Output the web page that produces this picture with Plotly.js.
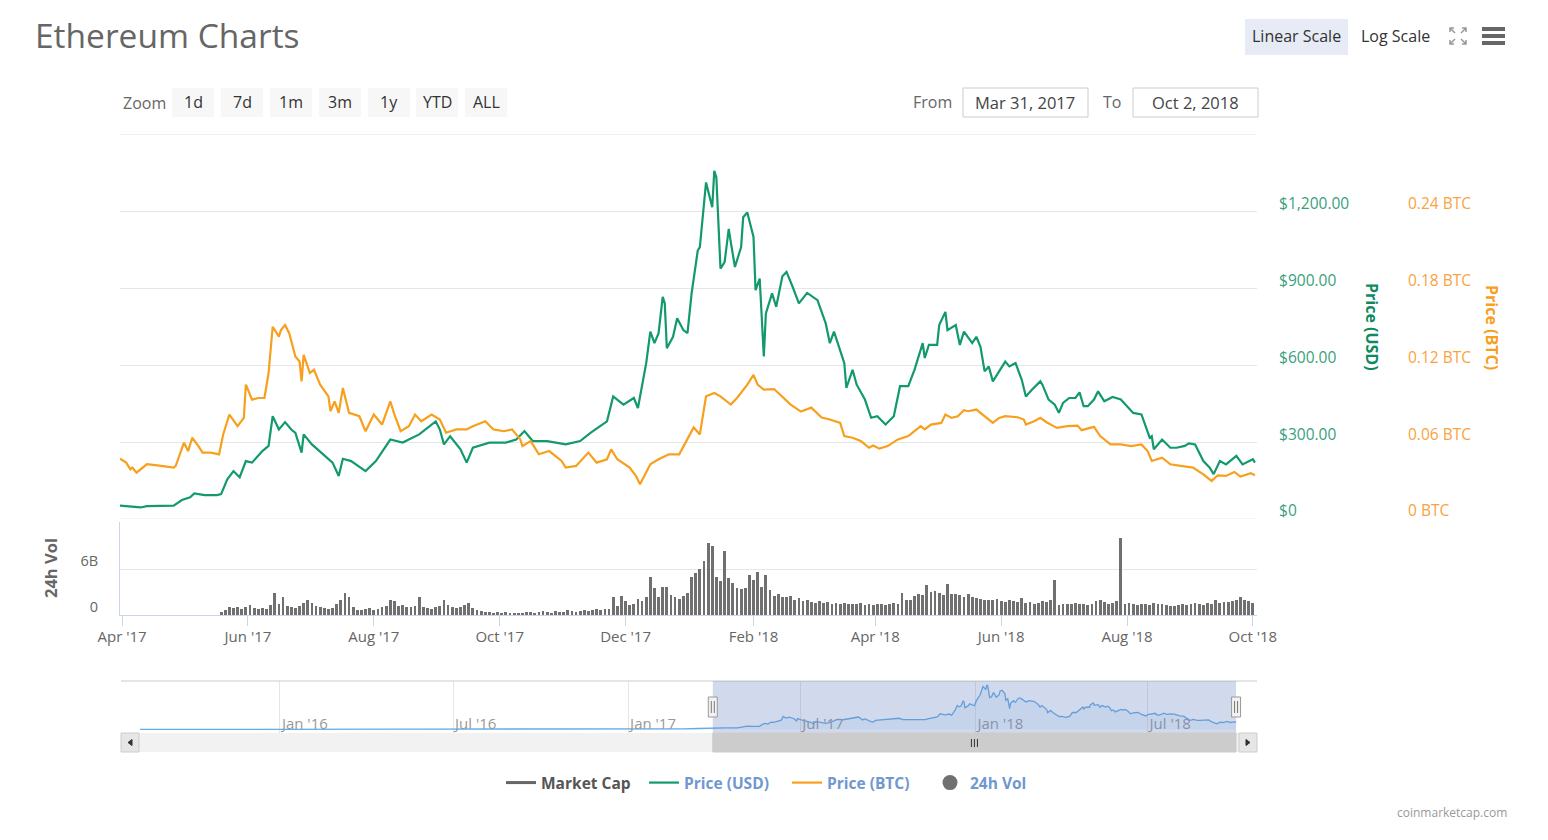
<!DOCTYPE html>
<html><head><meta charset="utf-8">
<script src="https://cdn.plot.ly/plotly-3.0.1.min.js"></script>
<style>html,body{margin:0;padding:0;background:#fff;overflow:hidden}#chart{width:1548px;height:840px}</style>
</head><body><div id="chart"></div>
<script>
// ---------- DATA ----------
const usdDates = ['2017-03-31','2017-04-10','2017-04-13','2017-04-26','2017-04-30','2017-05-04','2017-05-06','2017-05-11','2017-05-17','2017-05-19','2017-05-22','2017-05-25','2017-05-28','2017-05-31','2017-06-03','2017-06-08','2017-06-11','2017-06-13','2017-06-16','2017-06-19','2017-06-22','2017-06-24','2017-06-27','2017-06-28','2017-07-02','2017-07-08','2017-07-12','2017-07-15','2017-07-17','2017-07-21','2017-07-28','2017-08-02','2017-08-09','2017-08-15','2017-08-23','2017-08-31','2017-09-02','2017-09-04','2017-09-07','2017-09-12','2017-09-15','2017-09-18','2017-09-26','2017-10-04','2017-10-09','2017-10-13','2017-10-17','2017-10-24','2017-11-02','2017-11-09','2017-11-14','2017-11-22','2017-11-25','2017-11-30','2017-12-05','2017-12-07','2017-12-11','2017-12-13','2017-12-15','2017-12-17','2017-12-19','2017-12-20','2017-12-21','2017-12-24','2017-12-26','2017-12-29','2017-12-31','2018-01-02','2018-01-05','2018-01-06','2018-01-09','2018-01-12','2018-01-13','2018-01-14','2018-01-16','2018-01-18','2018-01-20','2018-01-21','2018-01-23','2018-01-26','2018-01-27','2018-01-29','2018-02-01','2018-02-02','2018-02-04','2018-02-06','2018-02-07','2018-02-10','2018-02-12','2018-02-15','2018-02-17','2018-02-20','2018-02-23','2018-02-27','2018-03-04','2018-03-08','2018-03-10','2018-03-12','2018-03-17','2018-03-18','2018-03-21','2018-03-23','2018-03-26','2018-03-27','2018-03-30','2018-04-02','2018-04-06','2018-04-10','2018-04-13','2018-04-17','2018-04-20','2018-04-24','2018-04-25','2018-04-27','2018-05-01','2018-05-02','2018-05-05','2018-05-06','2018-05-10','2018-05-12','2018-05-14','2018-05-18','2018-05-20','2018-05-22','2018-05-24','2018-05-26','2018-05-28','2018-05-31','2018-06-03','2018-06-05','2018-06-08','2018-06-11','2018-06-13','2018-06-16','2018-06-20','2018-06-21','2018-06-24','2018-06-27','2018-06-29','2018-07-01','2018-07-04','2018-07-07','2018-07-09','2018-07-11','2018-07-13','2018-07-16','2018-07-18','2018-07-21','2018-07-25','2018-07-29','2018-08-02','2018-08-04','2018-08-08','2018-08-10','2018-08-12','2018-08-13','2018-08-14','2018-08-18','2018-08-22','2018-08-25','2018-08-29','2018-08-31','2018-09-03','2018-09-07','2018-09-10','2018-09-12','2018-09-15','2018-09-18','2018-09-23','2018-09-26','2018-10-01','2018-10-02'];
const usdValues = [52,45,50,52,74,85,100,93,93,97,155,187,163,226,220,265,285,401,349,378,349,336,259,330,291,246,220,168,235,226,187,226,310,298,330,381,349,291,323,272,220,278,298,298,310,343,304,304,291,304,336,381,478,446,472,433,608,731,686,725,867,841,666,711,783,737,725,880,1048,1061,1313,1216,1358,1332,977,1002,1132,1080,983,1061,1177,1196,1100,893,938,634,802,880,828,947,964,905,841,882,854,763,686,731,608,511,582,524,478,466,395,401,369,401,518,518,582,686,628,679,679,757,808,737,757,679,731,686,711,672,576,595,537,576,614,595,608,543,478,505,537,524,466,446,414,453,472,472,494,440,440,466,498,459,476,466,433,414,408,362,317,323,272,310,278,278,285,295,291,226,201,175,226,213,246,213,233,220];

const btcDates = ['2017-03-31','2017-04-03','2017-04-05','2017-04-06','2017-04-08','2017-04-13','2017-04-20','2017-04-26','2017-04-27','2017-04-30','2017-05-01','2017-05-03','2017-05-05','2017-05-08','2017-05-10','2017-05-14','2017-05-18','2017-05-20','2017-05-23','2017-05-27','2017-05-30','2017-05-31','2017-06-03','2017-06-06','2017-06-09','2017-06-11','2017-06-13','2017-06-16','2017-06-17','2017-06-19','2017-06-21','2017-06-24','2017-06-26','2017-06-27','2017-06-28','2017-07-01','2017-07-03','2017-07-06','2017-07-10','2017-07-11','2017-07-13','2017-07-15','2017-07-17','2017-07-20','2017-07-25','2017-07-28','2017-08-01','2017-08-05','2017-08-09','2017-08-11','2017-08-14','2017-08-18','2017-08-21','2017-08-24','2017-08-29','2017-09-02','2017-09-05','2017-09-10','2017-09-15','2017-09-18','2017-09-24','2017-09-28','2017-10-03','2017-10-07','2017-10-11','2017-10-12','2017-10-16','2017-10-20','2017-10-25','2017-10-31','2017-11-02','2017-11-07','2017-11-13','2017-11-17','2017-11-22','2017-11-24','2017-11-27','2017-12-03','2017-12-06','2017-12-08','2017-12-13','2017-12-17','2017-12-22','2017-12-27','2017-12-31','2018-01-03','2018-01-06','2018-01-09','2018-01-13','2018-01-16','2018-01-21','2018-01-24','2018-01-29','2018-02-01','2018-02-03','2018-02-06','2018-02-11','2018-02-15','2018-02-19','2018-02-24','2018-03-01','2018-03-06','2018-03-10','2018-03-15','2018-03-17','2018-03-21','2018-03-25','2018-03-29','2018-03-31','2018-04-03','2018-04-07','2018-04-12','2018-04-17','2018-04-20','2018-04-23','2018-04-25','2018-04-28','2018-05-03','2018-05-05','2018-05-08','2018-05-11','2018-05-14','2018-05-16','2018-05-20','2018-05-24','2018-05-28','2018-05-31','2018-06-03','2018-06-09','2018-06-12','2018-06-13','2018-06-17','2018-06-20','2018-06-23','2018-06-28','2018-07-03','2018-07-08','2018-07-10','2018-07-16','2018-07-19','2018-07-24','2018-07-29','2018-08-03','2018-08-08','2018-08-11','2018-08-13','2018-08-18','2018-08-22','2018-08-27','2018-09-02','2018-09-07','2018-09-11','2018-09-14','2018-09-18','2018-09-22','2018-09-25','2018-09-30','2018-10-02'];
const btcValues = [0.0471,0.044,0.0388,0.0401,0.0362,0.0427,0.0414,0.0401,0.0414,0.0543,0.0595,0.053,0.0634,0.0569,0.0518,0.0518,0.0504,0.066,0.0815,0.0724,0.0789,0.1048,0.0931,0.0944,0.0944,0.1139,0.150,0.1423,0.1475,0.1514,0.145,0.1268,0.1229,0.1074,0.128,0.1139,0.1164,0.1048,0.0957,0.0841,0.0918,0.0828,0.1022,0.0828,0.0802,0.0685,0.0815,0.0737,0.0918,0.0815,0.0685,0.0724,0.0815,0.0763,0.0815,0.0776,0.0673,0.0699,0.0699,0.0724,0.0763,0.0699,0.0685,0.0699,0.0621,0.0569,0.0608,0.0505,0.053,0.0453,0.0401,0.0414,0.0518,0.044,0.0466,0.0543,0.0466,0.0401,0.0336,0.0272,0.0427,0.0466,0.0505,0.0505,0.0621,0.0714,0.066,0.0957,0.0983,0.0957,0.0893,0.0944,0.1048,0.1125,0.1048,0.1009,0.1014,0.0957,0.0893,0.0838,0.0869,0.0792,0.0776,0.075,0.0647,0.0634,0.0608,0.0556,0.0574,0.0549,0.0569,0.0621,0.0647,0.0685,0.0724,0.0699,0.0737,0.075,0.0815,0.0789,0.0802,0.0849,0.0841,0.0854,0.0802,0.075,0.0789,0.0802,0.0794,0.0776,0.0737,0.0763,0.0789,0.0755,0.0711,0.0724,0.0729,0.0693,0.0719,0.0647,0.0582,0.0582,0.0569,0.0582,0.053,0.0453,0.0479,0.0427,0.0414,0.0401,0.0349,0.0297,0.0341,0.0336,0.0367,0.0331,0.0357,0.0341];

// 24h volume in billions USD, one value every 2 days from volStart
const volStart = '2017-04-01';
const volStepDays = 2;
const volValues = [0,0,0,0,0,0,0,0,0,0,0,0,0,0,0.05,0,0.05,0,0.05,0,0.05,0,0,0,
0.4,0.6,1.0,0.9,1.1,0.8,1.0,1.3,0.9,0.8,0.9,0.8,1.3,2.9,1.5,2.4,1.2,1.0,0.9,1.2,
1.6,2.0,1.6,1.2,1.1,0.9,0.8,0.9,1.4,2.0,2.9,2.3,1.0,0.7,0.6,0.8,0.9,0.7,0.8,1.0,
1.2,2.0,1.8,1.2,1.3,1.0,1.1,1.2,2.3,1.0,0.9,0.8,1.0,1.2,1.9,1.3,1.0,0.9,1.0,1.3,
1.6,0.9,0.6,0.5,0.4,0.4,0.3,0.35,0.3,0.4,0.3,0.25,0.3,0.3,0.35,0.4,0.3,0.4,0.5,0.35,
0.3,0.5,0.4,0.45,0.6,0.5,0.4,0.5,0.6,0.5,0.7,0.8,0.6,0.8,0.8,2.3,1.2,2.5,1.8,1.3,
1.5,2.1,1.8,2.3,4.9,3.5,2.3,3.7,3.7,2.6,2.3,2.1,2.5,2.9,4.9,5.5,6.0,7.0,9.4,9.0,
5.0,4.5,8.3,4.8,4.2,3.5,3.4,3.5,5.2,4.6,5.6,3.6,5.2,3.3,2.5,2.8,2.4,2.3,2.5,2.0,
2.2,1.8,2.0,1.7,1.6,1.8,1.6,1.7,1.5,1.6,1.5,1.6,1.4,1.5,1.4,1.6,1.3,1.5,1.3,1.4,
1.5,1.3,1.4,1.6,1.5,2.9,2.0,1.9,2.5,2.7,2.6,3.9,3.0,3.1,2.9,2.6,4.0,2.8,2.7,2.6,
2.4,2.7,2.3,2.2,2.1,2.0,2.0,1.9,2.1,1.8,1.7,2.0,1.8,1.7,2.2,1.6,1.7,1.5,1.6,1.8,
1.7,1.9,4.6,1.3,1.4,1.5,1.4,1.6,1.5,1.4,1.3,1.5,1.8,2.0,1.7,1.4,1.6,1.8,10.0,1.5,
1.6,1.4,1.3,1.5,1.4,1.3,1.6,1.4,1.5,1.3,1.2,1.2,1.3,1.4,1.3,1.5,1.6,1.4,1.3,1.6,
1.5,1.9,1.6,1.7,1.7,1.8,2.0,2.3,1.9,1.8,1.6];

// navigator (full history, USD price) before the main window
const navHistDates = ['2015-08-07','2015-09-01','2015-10-01','2015-11-01','2015-12-01','2016-01-01','2016-02-01','2016-03-01','2016-04-01','2016-05-01','2016-06-01','2016-07-01','2016-08-01','2016-09-01','2016-10-01','2016-11-01','2016-12-01','2017-01-01','2017-02-01','2017-03-01','2017-03-15'];
const navHistValues = [2.8,1.3,0.7,0.9,0.9,0.95,2.5,8,11,9,14,12,11,12,12,10,8,8,11,19,30];

const usdTicks = [0,300,600,900,1200,1500];
const btcTicks = [0,0.06,0.12,0.18,0.24];
const volTicks = [0,6];
const volTickLabels = ['0','6B'];
const zoomButtons = ['1d','7d','1m','3m','1y','YTD','ALL'];
const fromDate = '2017-03-31';
const toDate = '2018-10-02';
const fromLabel = 'Mar 31, 2017';
const toLabel = 'Oct 2, 2018';

// ---------- HELPERS ----------
const W = 1548, H = 840;
const px = x => x / W;
const py = y => 1 - y / H;
const F = '"Open Sans", "Noto Sans", sans-serif';
const GREEN = '#12996d', ORANGE = '#f7a01e';

const DAY = 86400000;
const volDates = volValues.map((_, i) => new Date(Date.parse(volStart) + i * volStepDays * DAY).toISOString().slice(0, 10));
const navDates = navHistDates.concat(usdDates);
const navValues = navHistValues.concat(usdValues);

const usdText = usdTicks.map(v => v === 0 ? '$0' : (v === 1500 ? '' : '$' + v.toLocaleString('en-US', {minimumFractionDigits: 2, maximumFractionDigits: 2})));
const btcText = btcTicks.map(v => v === 0 ? '0 BTC' : v.toFixed(2) + ' BTC');

// ---------- TRACES ----------
const traces = [
  {name: '<span style="color:#555">Market Cap</span>', x: [null], y: [null], xaxis: 'x', yaxis: 'y', mode: 'lines', line: {color: '#666', width: 3}, hoverinfo: 'skip'},
  {name: 'Price (USD)', x: usdDates, y: usdValues, xaxis: 'x', yaxis: 'y', mode: 'lines', line: {color: GREEN, width: 2.2}},
  {name: 'Price (BTC)', x: btcDates, y: btcValues, xaxis: 'x', yaxis: 'y2', mode: 'lines', line: {color: ORANGE, width: 2.2}},
  {name: '24h Vol', x: [null], y: [null], xaxis: 'x', yaxis: 'y3', mode: 'markers', marker: {color: '#707070', size: 15, symbol: 'circle'}},
  {name: 'vol', showlegend: false, type: 'bar', x: volDates, y: volValues, xaxis: 'x', yaxis: 'y3', width: 1.35 * DAY, marker: {color: '#707070', line: {width: 0}}},
  {name: 'nav', showlegend: false, x: navDates, y: navValues, xaxis: 'x2', yaxis: 'y4', mode: 'lines', line: {color: '#64aae4', width: 1.3}, fill: 'tozeroy', fillcolor: 'rgba(124,181,236,0.12)'}
];

// ---------- SHAPES & ANNOTATIONS ----------
const shapes = [];
const ann = [];
function rect(x0, y0, x1, y1, fill, line, lw) {
  shapes.push({type: 'rect', xref: 'paper', yref: 'paper', x0: px(x0), x1: px(x1), y0: py(y1), y1: py(y0), fillcolor: fill, line: {color: line || fill, width: lw === undefined ? (line ? 1 : 0) : lw}, layer: 'below'});
}
function text(t, x, y, o) {
  o = o || {};
  ann.push({text: t, xref: 'paper', yref: 'paper', x: px(x), y: py(y), showarrow: false, xanchor: o.xa || 'center', yanchor: 'middle', font: {family: F, size: o.size || 16, color: o.color || '#333', weight: o.weight || 'normal'}, textangle: o.angle || 0});
}
function path(d, color, w, fill) {
  shapes.push({type: 'path', xref: 'paper', yref: 'paper', path: d, line: {color: color, width: w}, fillcolor: fill || 'rgba(0,0,0,0)'});
}
const P = (x, y) => px(x) + ',' + py(y);

// title
text('Ethereum Charts', 33, 35, {xa: 'left', size: 33.5, color: '#666'});
// linear / log scale
rect(1245, 19, 1348, 55, '#e6ebf5');
text('Linear Scale', 1296, 36, {size: 16, color: '#333'});
text('Log Scale', 1395, 36, {size: 16, color: '#333'});
// fullscreen icon
path('M' + P(1450, 32) + ' L' + P(1450, 28) + ' L' + P(1454, 28) + ' M' + P(1450, 28) + ' L' + P(1455, 33), '#999', 1.5);
path('M' + P(1466, 32) + ' L' + P(1466, 28) + ' L' + P(1462, 28) + ' M' + P(1466, 28) + ' L' + P(1461, 33), '#999', 1.5);
path('M' + P(1450, 40) + ' L' + P(1450, 44) + ' L' + P(1454, 44) + ' M' + P(1450, 44) + ' L' + P(1455, 39), '#999', 1.5);
path('M' + P(1466, 40) + ' L' + P(1466, 44) + ' L' + P(1462, 44) + ' M' + P(1466, 44) + ' L' + P(1461, 39), '#999', 1.5);
// hamburger
rect(1482, 27, 1505, 31, '#666');
rect(1482, 34, 1505, 38, '#666');
rect(1482, 41, 1505, 45, '#666');
// zoom buttons
text('Zoom', 121, 103, {xa: 'left', size: 16, color: '#666'});
const btnX = [172, 221, 270, 319, 368, 416, 465];
zoomButtons.forEach((b, i) => { rect(btnX[i], 88, btnX[i] + 42, 117, '#f7f7f7'); text(b, btnX[i] + 21, 102, {size: 16, color: '#333'}); });
// from / to
text('From', 954, 102, {xa: 'right', size: 16, color: '#666'});
rect(963, 88, 1088, 117, '#fff', '#cccccc', 1);
text(fromLabel, 1025, 102, {size: 16.5, color: '#444'});
text('To', 1123, 102, {xa: 'right', size: 16, color: '#666'});
rect(1133, 88, 1258, 117, '#fff', '#cccccc', 1);
text(toLabel, 1195, 102, {size: 16.5, color: '#444'});
// axis titles
text('Price (USD)', 1372, 327, {angle: 90, size: 16, color: '#0f8a5f', weight: 'bold'});
text('Price (BTC)', 1492, 327, {angle: 90, size: 16, color: ORANGE, weight: 'bold'});
text('24h Vol', 50, 568, {angle: -90, size: 16.5, color: '#666', weight: 'bold'});
// credit
text('coinmarketcap.com', 1509, 812, {xa: 'right', size: 12, color: '#999'});

// main plot top / zero lines
[0, 1500].forEach(v => shapes.push({type: 'line', xref: 'paper', yref: 'y', x0: px(120), x1: px(1257), y0: v, y1: v, line: {color: '#e6e6e6', width: 1}, layer: 'below'}));

// navigator outline, mask, handles
shapes.push({type: 'line', xref: 'paper', yref: 'paper', x0: px(121), x1: px(1257), y0: py(681), y1: py(681), line: {color: '#cccccc', width: 1}});
shapes.push({type: 'rect', xref: 'x2', yref: 'paper', x0: fromDate, x1: toDate, y0: py(733), y1: py(681), fillcolor: 'rgba(102,133,194,0.3)', line: {width: 0}, layer: 'above'});
[fromDate, toDate].forEach(d => {
  shapes.push({type: 'rect', xref: 'x2', yref: 'paper', xsizemode: 'pixel', xanchor: d, x0: -4.5, x1: 4.5, y0: py(717), y1: py(697), fillcolor: '#f2f2f2', line: {color: '#999', width: 1}});
  [-1.5, 1.5].forEach(o => shapes.push({type: 'line', xref: 'x2', yref: 'paper', xsizemode: 'pixel', xanchor: d, x0: o, x1: o, y0: py(713), y1: py(701), line: {color: '#777', width: 1}}));
});
// scrollbar
rect(121, 733, 1257, 752, '#f2f2f2');
shapes.push({type: 'rect', xref: 'x2', yref: 'paper', x0: fromDate, x1: toDate, y0: py(752), y1: py(733), fillcolor: '#cccccc', line: {color: '#cccccc', width: 1}});
const mid = new Date((Date.parse(fromDate) + Date.parse(toDate)) / 2).toISOString();
[-3, 0, 3].forEach(o => shapes.push({type: 'line', xref: 'x2', yref: 'paper', xsizemode: 'pixel', xanchor: mid, x0: o, x1: o, y0: py(747), y1: py(739), line: {color: '#333', width: 1}}));
rect(121, 733, 139, 752, '#e6e6e6', '#cccccc', 1);
rect(1239, 733, 1257, 752, '#e6e6e6', '#cccccc', 1);
path('M' + P(132, 739.5) + ' L' + P(128, 742.5) + ' L' + P(132, 745.5) + ' Z', '#333', 1, '#333');
path('M' + P(1246, 739.5) + ' L' + P(1250, 742.5) + ' L' + P(1246, 745.5) + ' Z', '#333', 1, '#333');

// ---------- LAYOUT ----------
const layout = {
  width: W, height: H,
  margin: {l: 0, r: 0, t: 0, b: 0},
  paper_bgcolor: '#fff', plot_bgcolor: 'rgba(0,0,0,0)',
  font: {family: F, color: '#666'},
  showlegend: true,
  legend: {orientation: 'h', x: px(501), xanchor: 'left', y: py(783), yanchor: 'middle', font: {family: F, size: 15.5, color: '#7097cf', weight: 'bold'}, itemwidth: 30, entrywidth: 98, bgcolor: 'rgba(0,0,0,0)', traceorder: 'normal'},
  xaxis: {type: 'date', domain: [px(120), px(1257)], range: ['2017-03-31', '2018-10-03'], anchor: 'y3', tick0: '2017-04-01', dtick: 'M2', tickformat: "%b '%y", showgrid: false, showline: true, linecolor: '#ccd6eb', linewidth: 1, ticks: 'outside', ticklen: 10, tickcolor: '#ccd6eb', tickfont: {family: F, size: 15, color: '#666'}, ticklabelstandoff: -2, zeroline: false, fixedrange: true},
  yaxis: {domain: [py(519), py(134.5)], range: [0, 1500], anchor: 'x', side: 'right', tickmode: 'array', tickvals: usdTicks, ticktext: usdText, showgrid: true, gridcolor: '#e6e6e6', gridwidth: 1, zeroline: false, showline: false, ticks: 'outside', ticklen: 18, tickcolor: 'rgba(0,0,0,0)', tickfont: {family: F, size: 15.5, color: '#3a9f7c'}, ticklabelshift: -8},
  yaxis2: {overlaying: 'y', range: [0, 0.30], side: 'right', anchor: 'free', position: px(1407), tickmode: 'array', tickvals: btcTicks, ticktext: btcText, showgrid: false, zeroline: false, showline: false, ticks: '', tickfont: {family: F, size: 15.5, color: '#f9a33f'}, ticklabelshift: -8},
  yaxis3: {domain: [py(615), py(522)], range: [0, 12.13], anchor: 'x', side: 'left', tickmode: 'array', tickvals: volTicks, ticktext: volTickLabels, showgrid: true, gridcolor: '#e6e6e6', zeroline: false, showline: true, linecolor: '#ccd6eb', ticks: 'outside', ticklen: 18, tickcolor: 'rgba(0,0,0,0)', tickfont: {family: F, size: 14.5, color: '#666'}, ticklabelshift: -8},
  xaxis2: {type: 'date', domain: [px(121), px(1257)], range: ['2015-07-18', '2018-10-24'], anchor: 'y4', tick0: '2016-01-01', dtick: 'M6', tickformat: "%b '%y", ticklabelposition: 'inside right', ticklabelstandoff: -5, ticklabelshift: 2, showgrid: true, gridcolor: '#e6e6e6', ticks: '', showline: false, zeroline: false, tickfont: {family: F, size: 15, color: '#999'}},
  yaxis4: {domain: [py(733), py(681)], range: [-107, 1480], anchor: 'x2', visible: false, showgrid: false, zeroline: false},
  bargap: 0,
  shapes: shapes,
  annotations: ann
};

Plotly.newPlot('chart', traces, layout, {staticPlot: true, displayModeBar: false});
</script>
</body></html>
